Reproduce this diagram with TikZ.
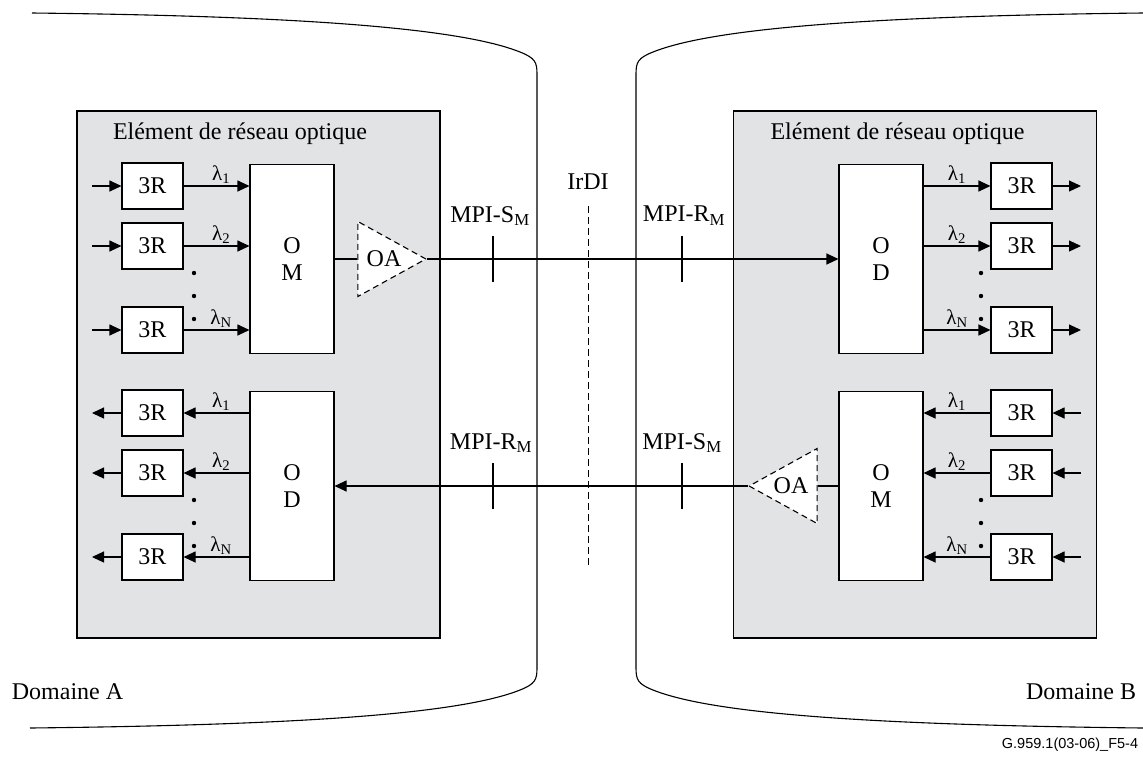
\documentclass[tikz,border=0pt]{standalone}
\usepackage{fontspec}
\setmainfont{Liberation Serif}
\newfontfamily\figidfont{Liberation Sans}
\usetikzlibrary{shapes.geometric,arrows.meta,positioning,calc}

\definecolor{negray}{RGB}{226,227,229}

\tikzset{
  netelem/.style={draw,fill=negray,minimum width=363pt,minimum height=527pt,inner sep=0pt},
  regen/.style={draw,fill=white,minimum width=61pt,minimum height=46pt,inner sep=0pt},
  muxbox/.style={draw,fill=white,minimum width=84pt,minimum height=189pt,inner sep=0pt,align=center},
  amp/.style={isosceles triangle,isosceles triangle stretches,draw,dash pattern=on 6pt off 4pt,fill=white,
    minimum width=75pt,minimum height=68pt,inner sep=0pt},
  sig/.style={-{Triangle[length=12pt,width=11pt]}},
  lam/.style={above,inner sep=1.5pt,font=\fontsize{21}{24}\selectfont},
}

\begin{document}
\begin{tikzpicture}[x=1pt,y=-1pt,line width=1.1pt,font=\fontsize{24}{27}\selectfont]
\useasboundingbox (0,0) rectangle (1143,756);

% the two domains
\draw (32,13) .. controls (300,16) and (460,28) .. (520,52) .. controls (535,58) and (537,62) .. (537,74)
  -- (537,668) .. controls (537,680) and (535,684) .. (520,690) .. controls (460,714) and (300,725) .. (30,728);
\draw (1143,13) .. controls (873,16) and (713,28) .. (653,52) .. controls (638,58) and (636,62) .. (636,74)
  -- (636,668) .. controls (636,680) and (638,684) .. (653,690) .. controls (713,714) and (873,725) .. (1143,728);
\node[anchor=west] (domA) at (8,692) {Domaine A};
\node[anchor=east] (domB) at (1140,692) {Domaine B};

% network elements
\node[netelem] (neA) at (258.5,374.5) {};
\node[netelem] (neB) at (915,374.5) {};
\node[anchor=north west,inner sep=0pt] (titleA) at ($(neA.north west)+(36,12)$) {Elément de réseau optique};
\node[anchor=north west,inner sep=0pt] (titleB) at ($(neB.north west)+(37,12)$) {Elément de réseau optique};

% mux / demux and amplifiers
\node[muxbox] (omA) at (292,259) {O\\M};
\node[muxbox] (odA) at (292,486) {O\\D};
\node[muxbox] (odB) at (881,259) {O\\D};
\node[muxbox] (omB) at (881,486) {O\\M};
\node[amp] (oaA) at (380,259) {};
\node[amp,shape border rotate=180] (oaB) at (795,486) {};
\node (oaAtxt) at (384,259) {OA};
\node (oaBtxt) at (791,486) {OA};

% 3R regenerators
\foreach \r/\y in {1/186,2/246,N/330}{
  \node[regen] (rA\r) at (152.5,\y) {3R};
  \node[regen] (rB\r) at (1021.5,\y) {3R};
  \coordinate (inA\r) at (92,\y);
  \coordinate (outB\r) at (1081,\y);
  \draw[sig] (inA\r) -- (rA\r.west);
  \draw[sig] (rA\r.east) -- node[lam,pos=0.57] {λ\textsubscript{\r}} (rA\r.east -| omA.west);
  \draw[sig] (rB\r.west -| odB.east) -- node[lam,pos=0.5] {λ\textsubscript{\r}} (rB\r.west);
  \draw[sig] (rB\r.east) -- (outB\r);
}
\foreach \r/\y in {1/413,2/473,N/557}{
  \node[regen] (sA\r) at (152.5,\y) {3R};
  \node[regen] (sB\r) at (1021.5,\y) {3R};
  \coordinate (outA\r) at (92,\y);
  \coordinate (inB\r) at (1081,\y);
  \draw[sig] (sA\r.west) -- (outA\r);
  \draw[sig] (sA\r.east -| odA.west) -- node[lam,pos=0.43] {λ\textsubscript{\r}} (sA\r.east);
  \draw[sig] (sB\r.west) -- node[lam,pos=0.5] {λ\textsubscript{\r}} (sB\r.west -| omB.east);
  \draw[sig] (inB\r) -- (sB\r.east);
}
\foreach \d in {27,50,73}{
  \fill (194,246+\d) circle (2.2pt);
  \fill (194,473+\d) circle (2.2pt);
  \fill (981,246+\d) circle (2.2pt);
  \fill (981,473+\d) circle (2.2pt);
}

% the links between the domains
\draw (omA.east) -- (oaA.lower side);
\draw[sig] (oaA.apex) -- (odB.west);
\draw (omB.west) -- (oaB.lower side);
\draw[sig] (oaB.apex) -- (odA.east);

% reference points
\foreach \x/\y in {493/259,682/259,493/486,682/486}
  \draw (\x,\y-23) -- (\x,\y+23);
\node (mpiSA) at (490,216) {MPI-S\textsubscript{M}};
\node (mpiRB) at (684,216) {MPI-R\textsubscript{M}};
\node (mpiRA) at (491,443) {MPI-R\textsubscript{M}};
\node (mpiSB) at (682,443) {MPI-S\textsubscript{M}};
\node (irdi) at (588,182) {IrDI};
\draw[dash pattern=on 7pt off 4pt,line width=0.9pt] ([yshift=-12pt]irdi.south) -- ++(0,362);

\node[anchor=east,font=\figidfont\fontsize{14.5}{17}\selectfont] (figid) at (1142,745) {G.959.1(03-06)\_F5-4};
\end{tikzpicture}
\end{document}
